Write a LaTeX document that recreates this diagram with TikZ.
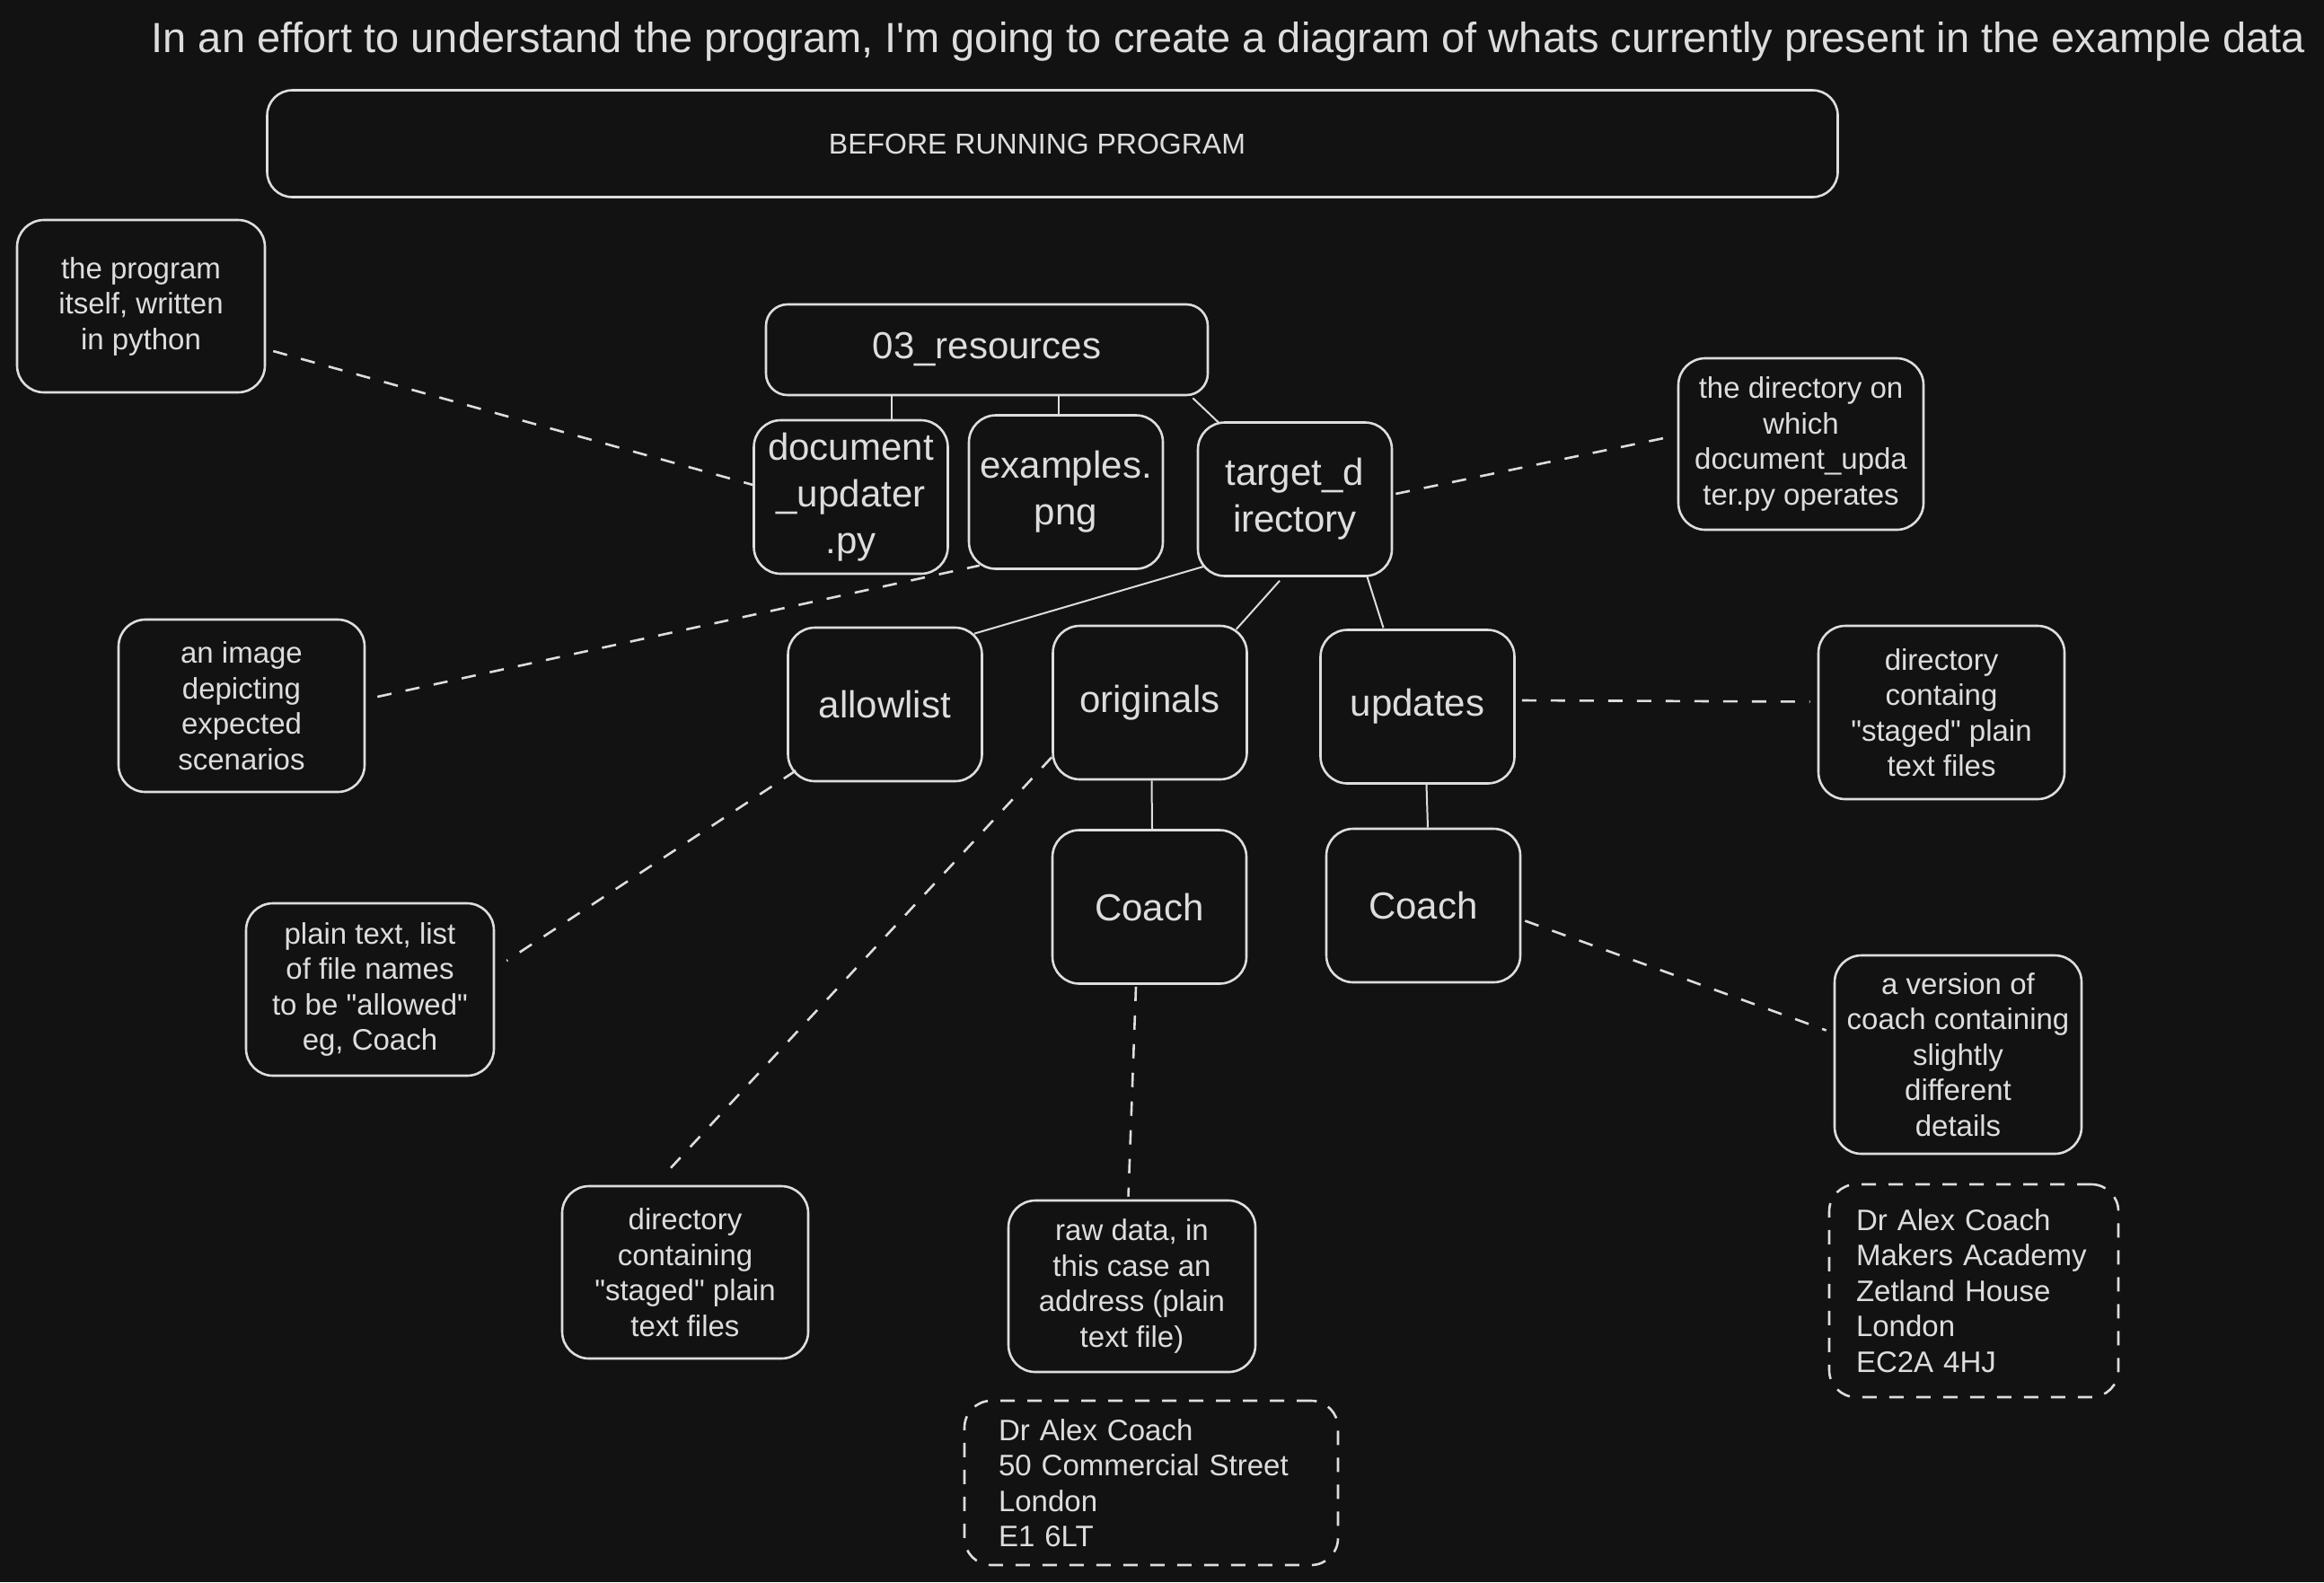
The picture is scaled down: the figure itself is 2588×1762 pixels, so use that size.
\documentclass[tikz,border=0pt]{standalone}
\usepackage{fontspec}
\setmainfont{Liberation Sans}[Ligatures=TeXOff]
\usetikzlibrary{calc}
\definecolor{bg}{HTML}{121212}
\definecolor{ink}{HTML}{DDDDDD}
\begin{document}
\begin{tikzpicture}[x=1pt,y=-1pt,
  box/.style={draw=ink, line width=2.6pt, rounded corners=30pt, inner sep=0pt, align=center, text=ink},
  mainbox/.style={box, minimum width=216, minimum height=171, font=\fontsize{42}{52}\selectfont},
  note/.style={box, font=\fontsize{33}{39.5}\selectfont},
  addr/.style={box, dash pattern=on 16pt off 14pt, font=\fontsize{33}{39.5}\selectfont, align=left, inner xsep=38pt},
  link/.style={draw=ink, line width=2pt},
  dlink/.style={draw=ink, line width=2.6pt, dash pattern=on 16pt off 16pt}]
\fill[bg] (0,0) rectangle (2588,1762);
\useasboundingbox (0,0) rectangle (2588,1762);

% title
\node[text=ink, inner sep=0pt, font=\fontsize{47}{52}\selectfont] (title) at (1368,46)
  {In an effort to understand the program, I'm going to create a diagram of whats currently present in the example data};

\node[box, rounded corners=28pt, minimum width=1749, minimum height=119, font=\fontsize{32}{38}\selectfont] (before) at (1172,160) {BEFORE RUNNING PROGRAM\hspace*{34pt}};

% main tree
\node[mainbox, rounded corners=24pt, minimum width=492, minimum height=101] (res) at (1099,389.5) {03\_resources};
\node[mainbox] (doc) at (947.5,553.5) {document\\\_updater\\.py};
\node[mainbox] (ex) at (1187,548) {examples.\\png};
\node[mainbox] (tgt) at (1442,556) {target\_d\\irectory};
\node[mainbox] (allow) at (985.5,784.5) {allowlist};
\node[mainbox] (orig) at (1280.5,782.5) {originals};
\node[mainbox] (upd) at (1578.5,787) {updates};
\node[mainbox] (coachA) at (1280,1010) {Coach};
\node[mainbox] (coachB) at (1585,1008.5) {Coach};

% notes
\node[note, minimum width=276, minimum height=192] (prognote) at (157,341) {the program\\itself, written\\in python};
\node[note, minimum width=273, minimum height=191] (tgtnote) at (2005.5,494.5) {the directory on\\which\\document\_upda\\ter.py operates};
\node[note, minimum width=274, minimum height=193] (updnote) at (2162,793.5) {directory\\containg\\"staged" plain\\text files};
\node[note, minimum width=274, minimum height=192] (imgnote) at (269,786) {an image\\depicting\\expected\\scenarios};
\node[note, minimum width=276, minimum height=192] (allownote) at (412,1102) {plain text, list\\of file names\\to be "allowed"\\eg, Coach};
\node[note, minimum width=274, minimum height=192] (orignote) at (763,1417) {directory\\containing\\"staged" plain\\text files};
\node[note, minimum width=275, minimum height=191] (rawnote) at (1260.5,1432.5) {raw data, in\\this case an\\address (plain\\text file)};
\node[note, minimum width=275, minimum height=221] (vernote) at (2180.5,1174.5) {a version of\\coach containing\\slightly\\different\\details};

% address boxes
\node[addr, text width=340pt, minimum height=183] (addrA) at (1282,1651.5) {Dr Alex Coach\\50 Commercial Street\\London\\E1 6LT};
\node[addr, text width=262pt, inner xsep=30pt, minimum height=237] (addrB) at (2198,1437.5) {Dr Alex Coach\\Makers Academy\\Zetland House\\London\\EC2A 4HJ};

% solid connectors
\draw[link] ([xshift=45pt]doc.north) -- ([xshift=45pt]doc.north |- res.south);
\draw[link] ([xshift=-8pt]ex.north) -- ([xshift=-8pt]ex.north |- res.south);
\draw[link] ([shift={(-18,2)}]res.south east) -- ([shift={(25,2)}]tgt.north west);
\draw[link] ([shift={(8,-12)}]tgt.south west) -- ([shift={(-10,8)}]allow.north east);
\draw[link] ([shift={(-17,4)}]tgt.south) -- ([shift={(-13,5)}]orig.north east);
\draw[link] ([shift={(-29,-1)}]tgt.south east) -- ([shift={(-38,-1)}]upd.north);
\draw[link] ([xshift=2pt]orig.south) -- ([xshift=3pt]coachA.north);
\draw[link] ([xshift=10pt]upd.south) -- ([xshift=5pt]coachB.north);

% dashed connectors
\draw[dlink] ([shift={(8,50)}]prognote.east) -- ([shift={(2,-13)}]doc.west);
\draw[dlink] ([shift={(13,-10)}]imgnote.east) -- ([shift={(13,-5)}]ex.south west);
\draw[dlink] ([shift={(3,-6)}]tgt.east) -- ([shift={(-3,-9)}]tgtnote.west);
\draw[dlink] ([shift={(7,-7)}]upd.east) -- ([shift={(-8,-12)}]updnote.west);
\draw[dlink] ([shift={(10,-13)}]allow.south west) -- ([shift={(13,-32)}]allownote.east);
\draw[dlink] ([shift={(0,-26)}]orig.south west) -- ([shift={(-16,-19)}]orignote.north);
\draw[dlink] ([shift={(-15,2)}]coachA.south) -- ([shift={(-4,-3)}]rawnote.north);
\draw[dlink] ([shift={(4,17)}]coachB.east) -- ([shift={(-8,-27)}]vernote.west);
\end{tikzpicture}
\end{document}
